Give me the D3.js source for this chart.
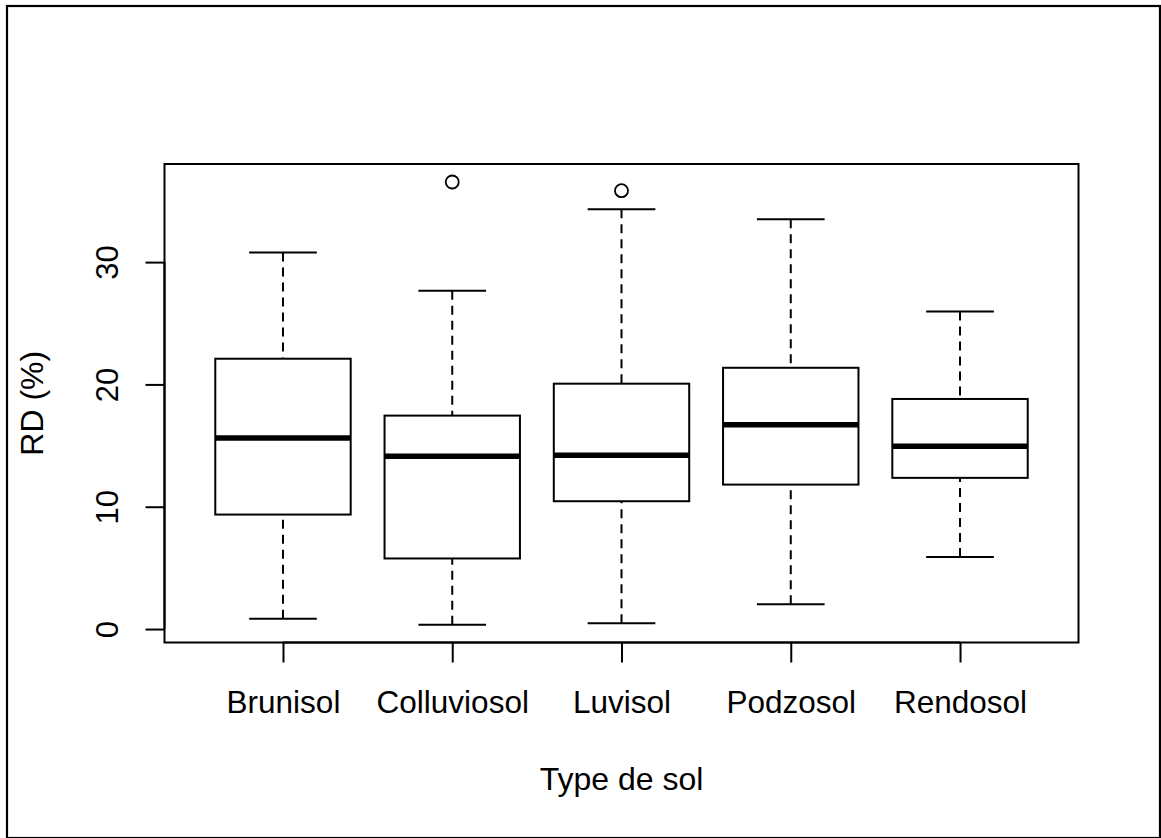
<!DOCTYPE html>
<html>
<head>
<meta charset="utf-8">
<script src="https://cdn.jsdelivr.net/npm/d3@7"></script>
<style>
  html, body { margin: 0; padding: 0; background: #fff; }
  svg text { font-family: "Liberation Sans", Arial, Helvetica, sans-serif; fill: #000; }
</style>
</head>
<body>
<svg id="chart" width="1161" height="838"></svg>
<script>
// Soil types and five-number summaries of RD (%)
const categories = ["Brunisol", "Colluviosol", "Luvisol", "Podzosol", "Rendosol"];
const whiskerLow  = [0.85, 0.36, 0.47, 2.02, 5.88];
const q1          = [9.36, 5.77, 10.45, 11.81, 12.36];
const medians     = [15.62, 14.12, 14.20, 16.71, 14.94];
const q3          = [22.10, 17.45, 20.06, 21.36, 18.81];
const whiskerHigh = [30.78, 27.65, 34.32, 33.50, 25.96];
// Outlying observations: [category index, value]
const outliers = [[1, 36.55], [2, 35.84]];
const yTicks = [0, 10, 20, 30];
const xTitle = "Type de sol";
const yTitle = "RD (%)";

const svg = d3.select("#chart");
const plot = { left: 164.5, right: 1078.5, top: 164, bottom: 642.5 };

// Outer figure frame
svg.append("rect")
  .attr("x", 7).attr("y", 6).attr("width", 1153).attr("height", 832)
  .attr("fill", "none").attr("stroke", "#000").attr("stroke-width", 2.2);

const x = d3.scaleLinear().domain([0.3, categories.length + 0.7]).range([plot.left, plot.right]);
const y = d3.scaleLinear().domain([-1.1, 38.02]).range([plot.bottom, plot.top]);

const boxHalf = 0.4, stapleHalf = 0.2;
const stroke = "#000";

const g = svg.append("g");
categories.forEach((c, i) => {
  const cx = x(i + 1);
  // dashed whiskers
  g.append("line")
    .attr("x1", cx).attr("x2", cx).attr("y1", y(whiskerLow[i])).attr("y2", y(q1[i]))
    .attr("stroke", stroke).attr("stroke-width", 2).attr("stroke-dasharray", "9,6");
  g.append("line")
    .attr("x1", cx).attr("x2", cx).attr("y1", y(whiskerHigh[i])).attr("y2", y(q3[i]))
    .attr("stroke", stroke).attr("stroke-width", 2).attr("stroke-dasharray", "9,6");
  // staples
  [whiskerLow[i], whiskerHigh[i]].forEach(v => {
    g.append("line")
      .attr("x1", x(i + 1 - stapleHalf)).attr("x2", x(i + 1 + stapleHalf))
      .attr("y1", y(v)).attr("y2", y(v))
      .attr("stroke", stroke).attr("stroke-width", 2);
  });
  // box
  g.append("rect")
    .attr("x", x(i + 1 - boxHalf)).attr("y", y(q3[i]))
    .attr("width", x(i + 1 + boxHalf) - x(i + 1 - boxHalf))
    .attr("height", y(q1[i]) - y(q3[i]))
    .attr("fill", "none").attr("stroke", stroke).attr("stroke-width", 2);
  // median
  g.append("line")
    .attr("x1", x(i + 1 - boxHalf)).attr("x2", x(i + 1 + boxHalf))
    .attr("y1", y(medians[i])).attr("y2", y(medians[i]))
    .attr("stroke", stroke).attr("stroke-width", 5.5);
});

// outliers
g.selectAll("circle.out").data(outliers).join("circle")
  .attr("class", "out")
  .attr("cx", d => x(d[0] + 1)).attr("cy", d => y(d[1]))
  .attr("r", 6.5).attr("fill", "none").attr("stroke", stroke).attr("stroke-width", 1.8);

// plot frame
svg.append("rect")
  .attr("x", plot.left).attr("y", plot.top)
  .attr("width", plot.right - plot.left).attr("height", plot.bottom - plot.top)
  .attr("fill", "none").attr("stroke", stroke).attr("stroke-width", 2);

// y axis
const yAxis = d3.axisLeft(y).tickValues(yTicks).tickSize(19).tickPadding(0).tickFormat(d3.format("d"));
const ya = svg.append("g").attr("transform", `translate(${plot.left},0)`).call(yAxis);
ya.select(".domain").attr("d", `M0,${y(yTicks[0])}V${y(yTicks[yTicks.length - 1])}`)
  .attr("stroke", stroke).attr("stroke-width", 2);
ya.selectAll(".tick line").attr("stroke", stroke).attr("stroke-width", 2);
ya.selectAll(".tick text")
  .attr("x", null).attr("dy", null)
  .attr("transform", "translate(-47,0) rotate(-90)")
  .attr("text-anchor", "middle")
  .style("font-size", "31px");

// x axis
const xAxis = d3.axisBottom(x).tickValues(categories.map((c, i) => i + 1))
  .tickSize(20).tickFormat((d, i) => categories[i]);
const xa = svg.append("g").attr("transform", `translate(0,${plot.bottom})`).call(xAxis);
xa.select(".domain").attr("d", `M${x(1)},0H${x(categories.length)}`)
  .attr("stroke", stroke).attr("stroke-width", 2);
xa.selectAll(".tick line").attr("stroke", stroke).attr("stroke-width", 2);
xa.selectAll(".tick text")
  .attr("y", 70.5).attr("dy", null)
  .style("font-size", "31.5px");

// axis titles
svg.append("text")
  .attr("x", (plot.left + plot.right) / 2).attr("y", 790)
  .attr("text-anchor", "middle").style("font-size", "32px").text(xTitle);
svg.append("text")
  .attr("transform", `translate(43,${(plot.top + plot.bottom) / 2}) rotate(-90)`)
  .attr("text-anchor", "middle").style("font-size", "32px").text(yTitle);
</script>
</body>
</html>
